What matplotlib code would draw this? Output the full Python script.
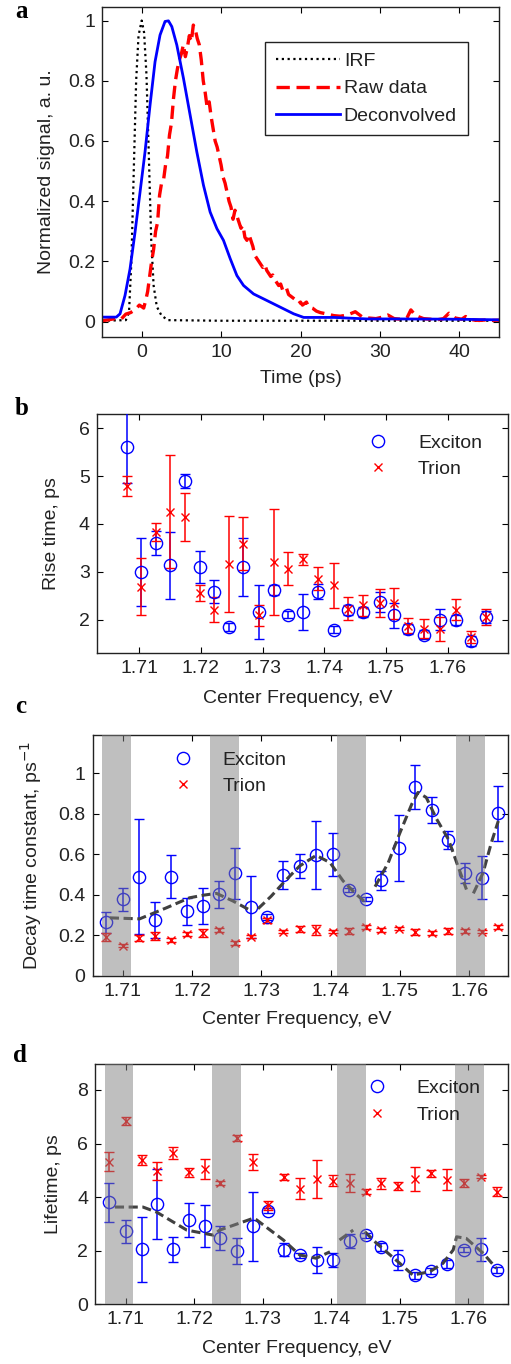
import numpy as np
import matplotlib
matplotlib.use("Agg")
import matplotlib.pyplot as plt
from matplotlib.lines import Line2D

plt.rcParams['font.family'] = ['Liberation Sans', 'DejaVu Sans']
plt.rcParams['font.size'] = 14
plt.rcParams['xtick.direction'] = 'in'
plt.rcParams['ytick.direction'] = 'in'
plt.rcParams['xtick.top'] = True
plt.rcParams['ytick.right'] = True
plt.rcParams['axes.linewidth'] = 1.0
TXT = '#222222'

# ---------------- Panel a data ----------------
t_irf = [-5.0, -2.0, -1.6, -1.3, -1.0, -0.7, -0.4, 0.0, 0.3, 0.6, 0.9, 1.2, 1.5, 1.9, 2.5, 3.3, 10.0, 45.0]
irf = [0.003, 0.005, 0.03, 0.2, 0.5, 0.8, 0.95, 1.0, 0.96, 0.82, 0.55, 0.27, 0.12, 0.05, 0.02, 0.005, 0.003, 0.003]

t_raw = [-5.0, -4.2, -3.4, -2.6, -2.0, -1.4, -0.8, -0.3,
         0.0, 0.25, 0.5, 0.75, 1.0, 1.25, 1.5, 1.75, 2.0, 2.25, 2.5, 2.75, 3.0, 3.25, 3.5, 3.75,
         4.0, 4.25, 4.5, 4.75, 5.0, 5.25, 5.5, 5.75, 6.0, 6.25, 6.5, 6.75, 7.0, 7.25, 7.5, 7.75,
         8.0, 8.25, 8.5, 8.75, 9.0, 9.25, 9.5, 9.75, 10.0, 10.25, 10.5, 10.75, 11.0, 11.25, 11.5, 11.75,
         12.0, 12.25, 12.5, 12.75, 13.0, 13.25, 13.5, 13.75, 14.0, 14.25, 14.5, 14.75, 15.0, 15.25,
         15.5, 15.75, 16.0, 16.25, 16.5, 16.75, 17.0, 17.25, 17.5, 17.75, 18.0, 18.25, 18.5, 18.75,
         19.0, 19.25, 19.5, 19.75, 20.0, 20.25, 20.5, 20.75, 21.0, 21.5, 22.0, 22.5,
         23.4, 24.2, 25.0, 25.9, 26.9, 27.8, 28.6, 29.5, 30.3, 31.0, 31.8, 32.6, 33.4, 33.9, 34.5,
         35.5, 36.4, 37.2, 38.0, 38.7, 39.5, 40.3, 40.8, 41.6, 42.5, 43.5, 44.2, 45.0]
raw = [0.003, 0.006, 0.010, 0.008, 0.025, 0.030, 0.040, 0.055,
       0.050, 0.045, 0.070, 0.100, 0.150, 0.200, 0.240, 0.300, 0.330, 0.420, 0.460, 0.470, 0.520, 0.550,
       0.620, 0.660, 0.740, 0.800, 0.840, 0.870, 0.890, 0.920, 0.880, 0.910, 0.950, 0.930, 0.985, 0.970,
       0.940, 0.920, 0.870, 0.800, 0.760, 0.710, 0.730, 0.680, 0.640, 0.600, 0.580, 0.550, 0.520, 0.480,
       0.460, 0.430, 0.400, 0.380, 0.340, 0.370, 0.350, 0.330, 0.310, 0.320, 0.280, 0.270, 0.290, 0.270,
       0.250, 0.220, 0.210, 0.200, 0.190, 0.180, 0.190, 0.170, 0.160, 0.150, 0.155, 0.140, 0.130, 0.120,
       0.125, 0.105, 0.100, 0.110, 0.090, 0.085, 0.080, 0.075, 0.070, 0.060, 0.065, 0.055, 0.060, 0.065,
       0.050, 0.045, 0.035, 0.030,
       0.025, 0.020, 0.018, 0.022, 0.033, 0.015, 0.012, 0.010, 0.015, 0.022, 0.010, 0.008, 0.012, 0.039,
       0.020, 0.010, 0.008, 0.006, 0.010, 0.028, 0.012, 0.008, 0.017, 0.006, 0.004, 0.006, 0.004, 0.005]

t_dec = [-5.0, -3.2, -2.73, -2.1, -1.47, -0.84, -0.21, 0.42, 1.05, 1.68, 2.31, 2.94, 3.37, 3.79, 4.42,
         5.26, 6.10, 6.94, 7.78, 8.62, 9.47, 10.3, 11.15, 11.99, 12.83, 14.09, 15.78, 17.46, 19.14, 20.4,
         24.2, 28.4, 32.6, 40.0, 45.0]
dec = [0.015, 0.015, 0.026, 0.087, 0.175, 0.297, 0.43, 0.564, 0.719, 0.863, 0.952, 0.997, 0.999, 0.98,
       0.919, 0.808, 0.686, 0.564, 0.453, 0.364, 0.309, 0.27, 0.209, 0.153, 0.12, 0.092, 0.07, 0.048,
       0.026, 0.014, 0.014, 0.009, 0.009, 0.008, 0.006]

# ---------------- Panel b data ----------------
freq_b = [1.70795, 1.71027, 1.71265, 1.71497, 1.71741, 1.71978, 1.72211, 1.72454, 1.72686, 1.72946,
          1.73184, 1.73405, 1.73659, 1.73892, 1.74162, 1.74389, 1.74622, 1.74903, 1.75135, 1.75362,
          1.75622, 1.75876, 1.76135, 1.76373, 1.76616]
rise_exc = [5.60, 3.00, 3.61, 3.14, 4.90, 3.10, 2.59, 1.85, 3.10, 2.16, 2.62, 2.11, 2.16, 2.59, 1.79,
            2.20, 2.16, 2.37, 2.09, 1.81, 1.69, 2.00, 2.00, 1.555, 2.06]
rise_exc_err = [0.75, 0.71, 0.25, 0.70, 0.15, 0.34, 0.23, 0.08, 0.60, 0.57, 0.10, 0.08, 0.37, 0.16, 0.07,
                0.10, 0.10, 0.20, 0.27, 0.10, 0.10, 0.22, 0.10, 0.10, 0.12]
rise_tri = [4.79, 2.69, 3.84, 4.26, 4.14, 2.56, 2.21, 3.16, 3.59, 2.09, 3.21, 3.07, 3.26, 2.86, 2.72,
            2.23, 2.30, 2.35, 2.34, 1.88, 1.81, 1.81, 2.21, 1.64, 2.06]
rise_tri_err = [0.21, 0.60, 0.19, 1.18, 0.50, 0.16, 0.26, 1.00, 0.55, 0.22, 1.10, 0.34, 0.11, 0.24, 0.47,
                0.24, 0.22, 0.30, 0.33, 0.15, 0.20, 0.25, 0.22, 0.13, 0.16]

# ---------------- Panels c, d data ----------------
freq_cd = [1.7076, 1.7100, 1.7123, 1.7146, 1.7169, 1.7192, 1.7215, 1.7238, 1.7262, 1.7285, 1.7308,
           1.7331, 1.7355, 1.7379, 1.7403, 1.7427, 1.7451, 1.7473, 1.7498, 1.7522, 1.7546, 1.7569,
           1.7594, 1.7618, 1.7642]
decay_exc = [0.264, 0.377, 0.489, 0.274, 0.489, 0.319, 0.344, 0.402, 0.506, 0.340, 0.289, 0.497, 0.542,
             0.595, 0.600, 0.423, 0.380, 0.473, 0.633, 0.931, 0.818, 0.671, 0.509, 0.484, 0.802]
decay_exc_err = [0.053, 0.056, 0.285, 0.090, 0.107, 0.066, 0.090, 0.068, 0.126, 0.152, 0.015, 0.068, 0.058,
                 0.168, 0.107, 0.010, 0.010, 0.047, 0.163, 0.109, 0.064, 0.043, 0.050, 0.107, 0.135]
decay_tri = [0.190, 0.149, 0.187, 0.195, 0.175, 0.207, 0.212, 0.225, 0.162, 0.192, 0.274, 0.217, 0.233,
             0.225, 0.217, 0.223, 0.241, 0.225, 0.233, 0.217, 0.212, 0.223, 0.223, 0.217, 0.241]
decay_tri_err = [0.020, 0.008, 0.015, 0.020, 0.010, 0.010, 0.020, 0.010, 0.008, 0.008, 0.012, 0.008, 0.015,
                 0.025, 0.008, 0.015, 0.008, 0.010, 0.008, 0.015, 0.010, 0.015, 0.010, 0.008, 0.008]
decay_fit_x = [1.7081, 1.7124, 1.7163, 1.7196, 1.7216, 1.7235, 1.7259, 1.7286, np.nan,
               1.7295, 1.7314, 1.7334, 1.7355, 1.7379, 1.7399, 1.7418, 1.7437, 1.7452, np.nan,
               1.7464, 1.7483, 1.7500, 1.7517, 1.7526, 1.7538, 1.7553, 1.7570, 1.7582, 1.7596, np.nan,
               1.7606, 1.7620, 1.7632, 1.7642]
decay_fit_y = [0.286, 0.281, 0.336, 0.385, 0.398, 0.407, 0.369, 0.319, np.nan,
               0.331, 0.393, 0.468, 0.542, 0.595, 0.559, 0.468, 0.402, 0.357, np.nan,
               0.440, 0.558, 0.707, 0.848, 0.906, 0.881, 0.774, 0.674, 0.558, 0.426, np.nan,
               0.407, 0.509, 0.658, 0.765]

life_exc = [3.81, 2.72, 2.05, 3.75, 2.05, 3.16, 2.92, 2.47, 1.99, 2.92, 3.50, 2.04, 1.83, 1.66, 1.66,
            2.36, 2.57, 2.14, 1.66, 1.08, 1.24, 1.52, 2.04, 2.05, 1.27]
life_exc_err = [0.72, 0.42, 1.20, 1.30, 0.46, 0.63, 0.78, 0.45, 0.48, 1.29, 0.10, 0.24, 0.10, 0.49, 0.26,
                0.25, 0.10, 0.15, 0.37, 0.12, 0.12, 0.15, 0.10, 0.42, 0.12]
life_tri = [5.33, 6.86, 5.39, 4.99, 5.64, 4.93, 5.06, 4.52, 6.20, 5.30, 3.69, 4.75, 4.31, 4.68, 4.62,
            4.52, 4.21, 4.52, 4.40, 4.68, 4.89, 4.65, 4.52, 4.77, 4.21]
life_tri_err = [0.35, 0.15, 0.18, 0.34, 0.22, 0.16, 0.37, 0.08, 0.12, 0.30, 0.16, 0.12, 0.39, 0.70, 0.20,
                0.34, 0.08, 0.20, 0.15, 0.45, 0.12, 0.40, 0.15, 0.05, 0.15]
life_fit_x = [1.7084, 1.7125, 1.7145, 1.7189, 1.7228, 1.7237, 1.7286, 1.7291, 1.7330, 1.7354, 1.7378,
              1.7398, np.nan, 1.7412, 1.7432, np.nan, 1.7449, 1.7466, 1.7500, 1.7519, 1.7544, 1.7563,
              1.7578, 1.7583, 1.7597, 1.7622, 1.7641]
life_fit_y = [3.63, 3.63, 3.44, 2.77, 2.58, 2.77, 3.21, 3.15, 2.40, 1.84, 1.72, 1.96, np.nan, 2.40, 2.77,
              np.nan, 2.71, 2.28, 1.53, 1.09, 1.22, 1.53, 2.03, 2.52, 2.46, 1.90, 1.34]

band_lo = [1.7069, 1.7226, 1.7409, 1.7581]
band_hi = [1.7111, 1.7268, 1.7451, 1.7623]

freq_ticks = [1.71, 1.72, 1.73, 1.74, 1.75, 1.76]

# ---------------- Figure ----------------
W, H = 511, 1364
fig = plt.figure(figsize=(W / 100, H / 100), dpi=100)


def axes_px(l, r, t, b):
    return fig.add_axes([l / W, 1 - b / H, (r - l) / W, (b - t) / H])


def style(ax):
    ax.tick_params(which='both', length=4, width=0.8, colors='k', labelcolor=TXT,
                   labelsize=14, pad=5)
    for s in ax.spines.values():
        s.set_color('#222222')


def fmt(v):
    return '%g' % v


def letter(x, y, s):
    fig.text(x / W, 1 - y / H, s, fontfamily=['Liberation Serif', 'DejaVu Serif'],
             fontweight='bold', fontsize=18, va='baseline', ha='left', color='k')


# ---- a ----
axa = axes_px(102, 499, 7, 336.7)
style(axa)
axa.plot(t_irf, irf, color='k', linestyle=(0, (1, 1.6)), lw=1.6, label='IRF')
axa.plot(t_raw, raw, color='r', linestyle=(0, (4, 2)), lw=2.4, label='Raw data')
axa.plot(t_dec, dec, color='b', linestyle='-', lw=2.0, label='Deconvolved')
axa.set_xlim(-5, 45)
axa.set_ylim(-0.05, 1.045)
axa.set_xticks([0, 10, 20, 30, 40])
axa.set_xticklabels([fmt(v) for v in [0, 10, 20, 30, 40]])
axa.set_yticks([0, 0.2, 0.4, 0.6, 0.8, 1.0])
axa.set_yticklabels([fmt(v) for v in [0, 0.2, 0.4, 0.6, 0.8, 1.0]])
axa.set_xlabel('Time (ps)', color=TXT, fontsize=14)
axa.set_ylabel('Normalized signal, a. u.', color=TXT, fontsize=14)
axa.xaxis.set_label_coords(0.5, -0.10)
axa.yaxis.set_label_coords(-0.118, 0.5)
leg = axa.legend(loc='upper left', bbox_to_anchor=(0.4106, 0.8948), borderaxespad=0,
                 fontsize=14, handlelength=3.3, handletextpad=0.2, borderpad=0.55,
                 labelspacing=0.5, fancybox=False, edgecolor='#222222', framealpha=1)
leg.get_frame().set_linewidth(1.0)
for txt in leg.get_texts():
    txt.set_color(TXT)
letter(15, 18.5, 'a')


def panel(ax, x, ye, yee, yt, yte):
    ax.errorbar(x, ye, yerr=yee, fmt='o', mfc='none', mec='b', mew=1.0, ms=8.8,
                ecolor='b', elinewidth=1.1, capsize=3.5, capthick=1.1, zorder=3)
    ax.errorbar(x, yt, yerr=yte, fmt='x', color='r', mew=1.0, ms=5.5,
                ecolor='r', elinewidth=1.1, capsize=3.5, capthick=1.1, zorder=3)


handles = [Line2D([], [], ls='none', marker='o', mfc='none', mec='b', ms=8.8, mew=1.0),
           Line2D([], [], ls='none', marker='x', color='r', ms=5.5, mew=1.0)]


def legend(ax, x, y):
    lg = ax.legend(handles, ['Exciton', 'Trion'], loc='upper left', bbox_to_anchor=(x, y),
                   borderaxespad=0, borderpad=0, frameon=False, fontsize=14, handlelength=2.0,
                   handletextpad=1.05, labelspacing=0.45)
    for txt in lg.get_texts():
        txt.set_color(TXT)
    lg.set_zorder(10)


def freq_axis(ax):
    ax.set_xticks(freq_ticks)
    ax.set_xticklabels(['%.2f' % v for v in freq_ticks])
    ax.set_xlabel('Center Frequency, eV', color=TXT, fontsize=14)


# ---- b ----
axb = axes_px(96.7, 508, 414.3, 653.3)
style(axb)
panel(axb, freq_b, rise_exc, rise_exc_err, rise_tri, rise_tri_err)
axb.set_xlim(1.7031, 1.7698)
axb.set_ylim(1.3, 6.29)
axb.set_yticks([2, 3, 4, 5, 6])
axb.set_yticklabels([fmt(v) for v in [2, 3, 4, 5, 6]])
freq_axis(axb)
axb.set_ylabel('Rise time, ps', color=TXT, fontsize=14)
axb.xaxis.set_label_coords(0.49, -0.155)
axb.yaxis.set_label_coords(-0.089, 0.5)
legend(axb, 0.637, 0.918)
letter(15, 415, 'b')


def bands(ax):
    for lo, hi in zip(band_lo, band_hi):
        ax.axvspan(lo, hi, facecolor='0.5', alpha=0.5, lw=0, zorder=5)


# ---- c ----
axc = axes_px(92.5, 508, 735, 975.7)
style(axc)
panel(axc, freq_cd, decay_exc, decay_exc_err, decay_tri, decay_tri_err)
axc.plot(decay_fit_x, decay_fit_y, color='0.25', linestyle=(0, (3, 1.5)), lw=2.2, zorder=4)
bands(axc)
axc.set_xlim(1.7056, 1.7656)
axc.set_ylim(0, 1.19)
axc.set_yticks([0, 0.2, 0.4, 0.6, 0.8, 1.0])
axc.set_yticklabels([fmt(v) for v in [0, 0.2, 0.4, 0.6, 0.8, 1.0]])
freq_axis(axc)
axc.set_ylabel('Decay time constant, ps$^{-1}$', color=TXT, fontsize=14)
axc.xaxis.set_label_coords(0.491, -0.145)
axc.yaxis.set_label_coords(-0.117, 0.5)
legend(axc, 0.170, 0.933)
letter(15, 713, 'c')

# ---- d ----
axd = axes_px(95, 508, 1064, 1304.3)
style(axd)
panel(axd, freq_cd, life_exc, life_exc_err, life_tri, life_tri_err)
axd.plot(life_fit_x, life_fit_y, color='0.25', linestyle=(0, (3, 1.5)), lw=2.2, zorder=4)
bands(axd)
axd.set_xlim(1.7055, 1.7658)
axd.set_ylim(0, 8.97)
axd.set_yticks([0, 2, 4, 6, 8])
axd.set_yticklabels([fmt(v) for v in [0, 2, 4, 6, 8]])
freq_axis(axd)
axd.set_ylabel('Lifetime, ps', color=TXT, fontsize=14)
axd.xaxis.set_label_coords(0.488, -0.147)
axd.yaxis.set_label_coords(-0.079, 0.5)
legend(axd, 0.635, 0.935)
letter(13, 1061.5, 'd')

fig.savefig('out.png', dpi=100)
